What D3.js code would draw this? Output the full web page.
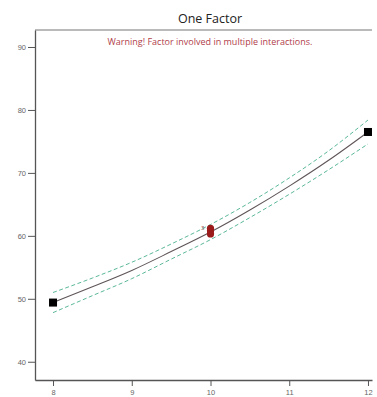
<!DOCTYPE html>
<html><head><meta charset="utf-8">
<script src="https://cdn.jsdelivr.net/npm/d3@7"></script>
<style>body{margin:0;background:#fff;}svg{display:block;font-family:"Open Sans",sans-serif;}</style>
</head><body>
<script>
const title = "One Factor";
const warning = "Warning! Factor involved in multiple interactions.";
const xTicks = [8, 9, 10, 11, 12];
const yTicks = [40, 50, 60, 70, 80, 90];
const curveX = [8, 8.5, 9, 9.5, 10, 10.5, 11, 11.5, 12];
const predicted = [49.4, 51.9, 54.5, 57.5, 60.6, 64.1, 67.9, 72.0, 76.5];
const upper = [51.0, 53.3, 55.8, 58.7, 61.8, 65.3, 69.2, 73.5, 78.4];
const lower = [47.8, 50.5, 53.2, 56.3, 59.4, 62.9, 66.6, 70.5, 74.6];
const designX = [8, 12];
const designY = [49.4, 76.5];
const centerX = [10, 10, 10];
const centerY = [60.3, 60.8, 61.2];

const W = 377, H = 397;
const svg = d3.select("body").append("svg").attr("width", W).attr("height", H);
const m = {l: 35, t: 30, r: 5, b: 17};
const x = d3.scaleLinear().domain([7.771, 12.051]).range([m.l, W - m.r]);
const y = d3.scaleLinear().domain([37.1, 92.7]).range([H - m.b, m.t]);

// frame top
svg.append("line").attr("x1", m.l).attr("x2", W - m.r).attr("y1", m.t).attr("y2", m.t)
  .attr("stroke", "#777").attr("stroke-width", 1.2);

const xa = svg.append("g").attr("transform", `translate(0,${H - m.b})`)
  .call(d3.axisBottom(x).tickValues(xTicks).tickSize(6).tickSizeOuter(0).tickFormat(d3.format("d")));
const ya = svg.append("g").attr("transform", `translate(${m.l},0)`)
  .call(d3.axisLeft(y).tickValues(yTicks).tickSize(7).tickSizeOuter(0).tickFormat(d3.format("d")));
[xa, ya].forEach(a => {
  a.select(".domain").attr("stroke", "#555").attr("stroke-width", 1.3);
  a.selectAll(".tick line").attr("stroke", "#555");
  a.selectAll("text").attr("fill", "#666").attr("font-size", 7.5);
});
ya.selectAll("text").attr("x", -9);
xa.selectAll("text").attr("y", 9.5);

const line = d3.line().x((d, i) => x(curveX[i])).y(d => y(d)).curve(d3.curveMonotoneX);
[upper, lower].forEach(s => {
  svg.append("path").attr("d", line(s)).attr("fill", "none")
    .attr("stroke", "#5bb89a").attr("stroke-width", 1).attr("stroke-dasharray", "4,2.5");
});
svg.append("path").attr("d", line(predicted)).attr("fill", "none")
  .attr("stroke", "#5f5557").attr("stroke-width", 1.1);

svg.selectAll(".sq").data(designX).enter().append("rect")
  .attr("x", (d) => x(d) - 4).attr("y", (d, i) => y(designY[i]) - 4)
  .attr("width", 8).attr("height", 8).attr("fill", "#000");

svg.selectAll(".cp").data(centerY).enter().append("ellipse")
  .attr("cx", (d, i) => x(centerX[i])).attr("cy", d => y(d))
  .attr("rx", 3.6).attr("ry", 3.6).attr("fill", "#9b1b1b");
svg.append("text").attr("x", x(10) - 6).attr("y", y(61.2) + 2).attr("font-size", 6)
  .attr("fill", "#8a4040").attr("text-anchor", "end").text("3");

svg.append("text").attr("x", 210).attr("y", 23).attr("text-anchor", "middle")
  .attr("font-size", 12.5).attr("fill", "#222").text(title);
svg.append("text").attr("x", 210).attr("y", 45).attr("text-anchor", "middle")
  .attr("font-size", 9).attr("fill", "#b0404a").text(warning);
</script>
</body></html>
